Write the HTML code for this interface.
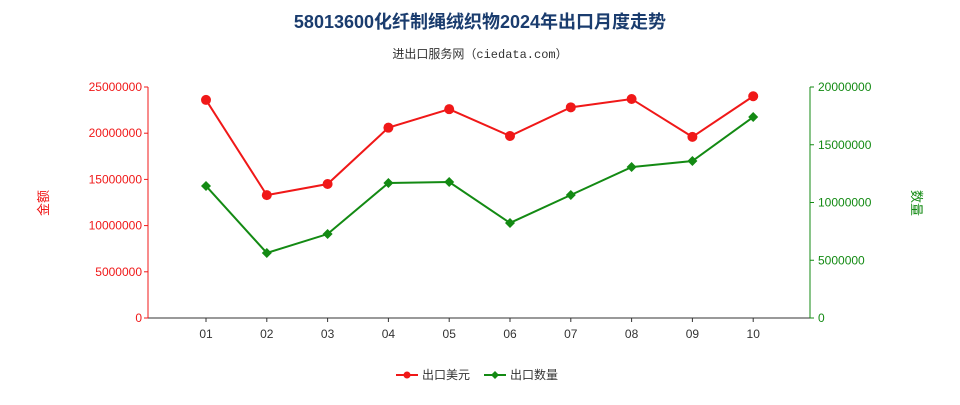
<!DOCTYPE html>
<html><head><meta charset="utf-8">
<style>
body{margin:0;background:#fff;font-family:"Liberation Sans","Noto Sans CJK SC",sans-serif;}
svg text{font-family:"Liberation Sans","Noto Sans CJK SC",sans-serif;}
</style></head>
<body>
<svg id="chart" width="960" height="400">
<text x="480" y="28" text-anchor="middle" font-size="18" font-weight="bold" fill="#1a3c6e">58013600化纤制绳绒织物2024年出口月度走势</text>
<text x="480" y="58" text-anchor="middle" font-size="12" fill="#333" style="font-family:'Liberation Mono','Noto Sans CJK SC',monospace">进出口服务网（ciedata.com）</text>
<text x="48" y="203" text-anchor="middle" font-size="13" fill="#f01818" transform="rotate(-90 48 203)">金额</text>
<text x="912" y="203" text-anchor="middle" font-size="13" fill="#138a13" transform="rotate(90 912 203)">数量</text>
<g id="axes"></g>
<g id="series"></g>
<g>
<g>
<line x1="396" y1="375" x2="418" y2="375" stroke="#f01818" stroke-width="2"/><circle cx="407" cy="375" r="3.5" fill="#f01818"/>
<text x="422" y="379" font-size="12" fill="#333">出口美元</text></g>
<g>
<line x1="484" y1="375" x2="506" y2="375" stroke="#138a13" stroke-width="2"/><path d="M495 371 L499 375 L495 379 L491 375Z" fill="#138a13"/>
<text x="510" y="379" font-size="12" fill="#333">出口数量</text></g>
</g>
</svg>
<script>
const categories=["01","02","03","04","05","06","07","08","09","10"];
const usdValues=[23600000,13300000,14500000,20600000,22600000,19700000,22800000,23700000,19600000,24000000];
const qtyValues=[11430000,5630000,7270000,11690000,11770000,8230000,10650000,13070000,13590000,17400000];
const leftTicks=[0,5000000,10000000,15000000,20000000,25000000];
const rightTicks=[0,5000000,10000000,15000000,20000000];
const NS="http://www.w3.org/2000/svg";
const X0=148,X1=810,Y0=318,Y1=87;
const RED='#f01818',GREEN='#138a13';
const xPos=i=>206+i*60.8;
const yL=v=>Y0-v/25000000*(Y0-Y1);
const yR=v=>Y0-v/20000000*(Y0-Y1);
function mk(tag,attrs,parent){const e=document.createElementNS(NS,tag);for(const k in attrs)e.setAttribute(k,attrs[k]);parent.appendChild(e);return e;}
const axes=document.getElementById('axes'),ser=document.getElementById('series');
let e;
e=mk('line',{x1:X0,y1:Y0,x2:X1,y2:Y0,stroke:'#333'},axes);


e=mk('line',{x1:X0,y1:Y1,x2:X0,y2:Y0,stroke:RED},axes);


e=mk('line',{x1:X1,y1:Y1,x2:X1,y2:Y0,stroke:GREEN},axes);


leftTicks.forEach(v=>{const y=yL(v);mk('line',{x1:X0-4,y1:y,x2:X0,y2:y,stroke:RED},axes);
e=mk('text',{x:X0-6,y:y+4,'text-anchor':'end','font-size':12,fill:RED},axes);e.textContent=v;

});
rightTicks.forEach(v=>{const y=yR(v);mk('line',{x1:X1,y1:y,x2:X1+4,y2:y,stroke:GREEN},axes);
e=mk('text',{x:X1+8,y:y+4,'text-anchor':'start','font-size':12,fill:GREEN},axes);e.textContent=v;

});
categories.forEach((c,i)=>{const x=xPos(i);mk('line',{x1:x,y1:Y0,x2:x,y2:Y0+4,stroke:'#333'},axes);
e=mk('text',{x:x,y:Y0+20,'text-anchor':'middle','font-size':12,fill:'#333'},axes);e.textContent=c;

});
e=mk('polyline',{points:usdValues.map((v,i)=>xPos(i)+','+yL(v)).join(' '),fill:'none',stroke:RED,'stroke-width':2},ser);


e=mk('polyline',{points:qtyValues.map((v,i)=>xPos(i)+','+yR(v)).join(' '),fill:'none',stroke:GREEN,'stroke-width':2},ser);


usdValues.forEach((v,i)=>{e=mk('circle',{cx:xPos(i),cy:yL(v),r:5,fill:RED},ser);

});
qtyValues.forEach((v,i)=>{const x=xPos(i),y=yR(v);e=mk('path',{d:`M${x} ${y-5} L${x+5} ${y} L${x} ${y+5} L${x-5} ${y}Z`,fill:GREEN},ser);

});
</script>
</body></html>
